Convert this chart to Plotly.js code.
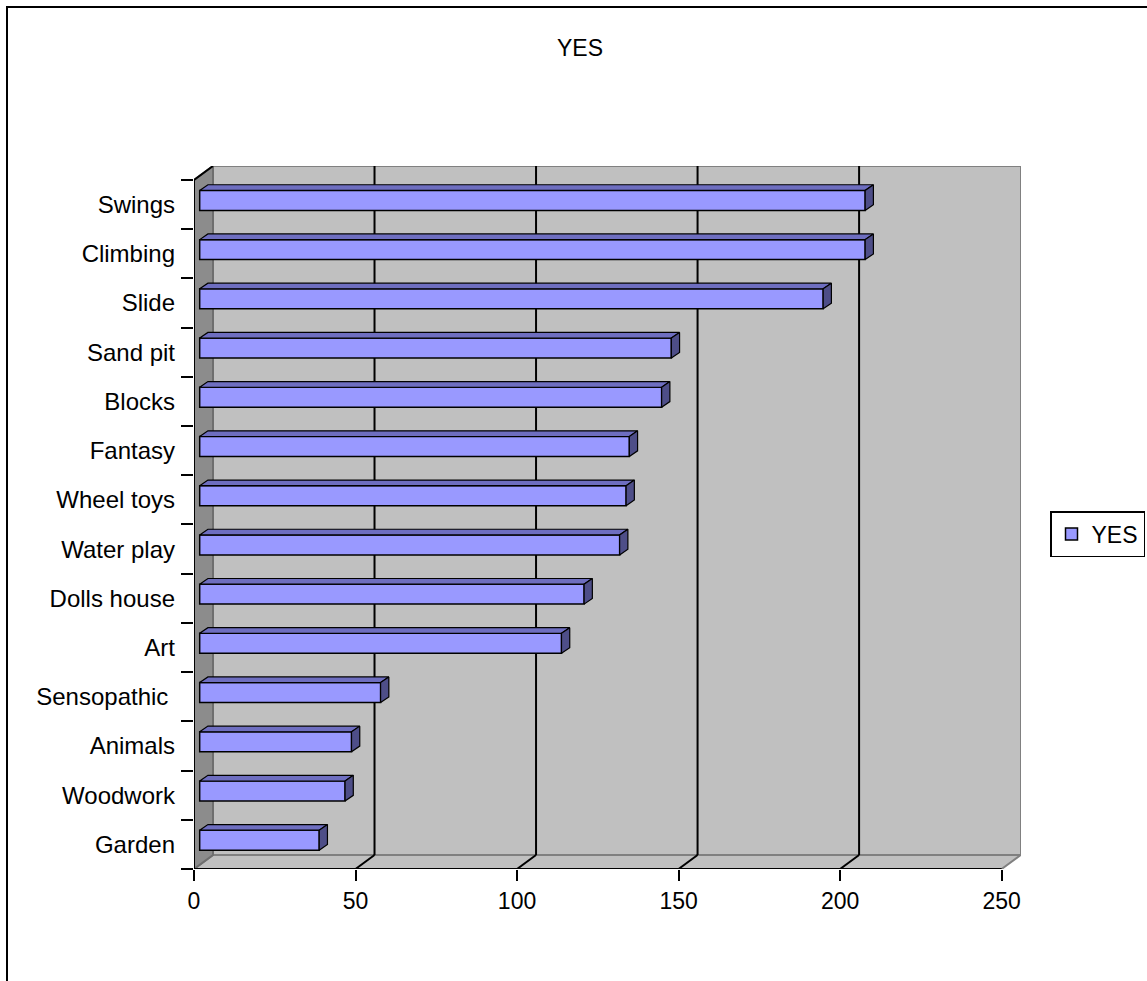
<!DOCTYPE html>
<html>
<head>
<meta charset="utf-8">
<script src="https://cdn.plot.ly/plotly-3.0.1.min.js"></script>
<style>html,body{margin:0;padding:0;background:#fff;}#chart{width:1147px;height:981px;}</style>
</head>
<body>
<div id="chart"></div>
<script>
// ---- data (top to bottom as shown) ----
const categories = ['Swings','Climbing','Slide','Sand pit','Blocks','Fantasy','Wheel toys','Water play','Dolls house','Art','Sensopathic\u00a0','Animals','Woodwork','Garden'];
const values = [206,206,193,146,143,133,132,130,119,112,56,47,45,37];
const xTickVals = [0,50,100,150,200,250];
const seriesName = 'YES';
const chartTitle = 'YES';

// ---- 3D look parameters (axis units) ----
const DX = 5.88, DY = 0.284;          // wall depth offset
const BASE = 1.76, BW = 0.406, BOFF = 0.085; // bar front face
const DDX = 2.55, DDY = 0.115;        // bar depth
const XMAX = 256, YMIN = -0.5, YMAX = 13.5 + DY;

const cats = categories.slice().reverse();
const vals = values.slice().reverse();

const topX = [], topY = [], sideX = [], sideY = [];
vals.forEach((v, i) => {
  const yT = i + BOFF + BW / 2, yB = i + BOFF - BW / 2;
  topX.push(BASE, BASE + v, BASE + v + DDX, BASE + DDX, BASE, null);
  topY.push(yT, yT, yT + DDY, yT + DDY, yT, null);
  sideX.push(BASE + v, BASE + v + DDX, BASE + v + DDX, BASE + v, BASE + v, null);
  sideY.push(yB, yB + DDY, yT + DDY, yT, yB, null);
});

const traces = [
  {type:'bar', orientation:'h', name:seriesName, y:cats, x:vals, base:BASE,
   width:BW, offset:BOFF - BW/2, xaxis:'x', yaxis:'y',
   marker:{color:'#9999FF', line:{color:'#000', width:1.5}}, hoverinfo:'skip'},
  {type:'scatter', mode:'lines', x:topX, y:topY, xaxis:'x', yaxis:'y2', fill:'toself',
   fillcolor:'#6E6EC0', line:{color:'#000', width:1.2}, showlegend:false, hoverinfo:'skip'},
  {type:'scatter', mode:'lines', x:sideX, y:sideY, xaxis:'x', yaxis:'y2', fill:'toself',
   fillcolor:'#4E4E88', line:{color:'#000', width:1.2}, showlegend:false, hoverinfo:'skip'}
];

const shapes = [];
// back wall
shapes.push({type:'path', xref:'x', yref:'y2', layer:'below',
  path:`M${DX},${YMIN+DY} L${XMAX},${YMIN+DY} L${XMAX},${13.5+DY} L${DX},${13.5+DY} Z`,
  fillcolor:'#C0C0C0', line:{color:'#808080', width:2}});
// floor
shapes.push({type:'path', xref:'x', yref:'y2', layer:'below',
  path:`M0,${YMIN} L250,${YMIN} L${250+DX},${YMIN+DY} L${DX},${YMIN+DY} Z`,
  fillcolor:'#C0C0C0', line:{color:'#808080', width:2}});
// left wall
shapes.push({type:'path', xref:'x', yref:'y2', layer:'below',
  path:`M0,${YMIN} L${DX},${YMIN+DY} L${DX},${13.5+DY} L0,13.5 Z`,
  fillcolor:'#8C8C8C', line:{color:'#6E6E6E', width:2}});
// gridlines on back wall + floor
xTickVals.forEach(v => {
  if (v > 0 && v < 250) {
    shapes.push({type:'line', xref:'x', yref:'y2', layer:'below',
      x0:v+DX, x1:v+DX, y0:YMIN+DY, y1:13.5+DY, line:{color:'#000', width:2}});
    shapes.push({type:'line', xref:'x', yref:'y2', layer:'below',
      x0:v, x1:v+DX, y0:YMIN, y1:YMIN+DY, line:{color:'#000', width:2}});
  }
});
// front axis lines
shapes.push({type:'line', xref:'x', yref:'y2', layer:'below', x0:0, x1:250, y0:YMIN, y1:YMIN, line:{color:'#000', width:2}});
shapes.push({type:'line', xref:'x', yref:'y2', layer:'below', x0:0, x1:0, y0:YMIN, y1:13.5, line:{color:'#000', width:2}});
shapes.push({type:'line', xref:'x', yref:'y2', layer:'below', x0:0, x1:DX, y0:13.5, y1:13.5+DY, line:{color:'#000', width:2}});
// outer chart border
const L = 194, R = 1021, T = 166, B = 869;
const px = p => (p - L) / (R - L), py = p => (B - p) / (B - T);
shapes.push({type:'rect', xref:'paper', yref:'paper', x0:px(7), x1:px(1160), y0:py(995), y1:py(7),
  line:{color:'#000', width:2}, fillcolor:'rgba(0,0,0,0)'});

const fam = '"Liberation Sans", Arial, sans-serif';
const font = {family:fam, size:23, color:'#000'};

const layout = {
  width:1147, height:981,
  margin:{l:L, r:1147-R, t:T, b:981-B, pad:0},
  paper_bgcolor:'#fff', plot_bgcolor:'rgba(0,0,0,0)',
  font:font,
  title:{text:chartTitle, font:{family:fam, size:23, color:'#000'},
         xref:'container', yref:'container', x:580/1147, xanchor:'center', y:1-48/981, yanchor:'middle'},
  showlegend:true,
  legend:{xref:'container', yref:'container', x:1145/1147, xanchor:'right', y:1-534/981, yanchor:'middle',
          bgcolor:'#fff', bordercolor:'#000', borderwidth:1.5, font:font, itemwidth:30,
          tracegroupgap:0},
  xaxis:{range:[0, XMAX], tickvals:xTickVals, ticks:'outside', ticklen:11, tickwidth:2, tickcolor:'#000',
         showgrid:false, zeroline:false, showline:false, tickfont:font, fixedrange:true, automargin:false},
  yaxis:{type:'category', categoryorder:'array', categoryarray:cats, range:[YMIN, YMAX],
         tickson:'boundaries', ticks:'outside', ticklen:12, tickwidth:2, tickcolor:'#000',
         ticklabelstandoff:18, automargin:false,
         showgrid:false, zeroline:false, showline:false, tickfont:{family:fam, size:24, color:'#000'}, fixedrange:true},
  yaxis2:{overlaying:'y', range:[YMIN, YMAX], visible:false, fixedrange:true},
  shapes:shapes
};

Plotly.newPlot('chart', traces, layout, {staticPlot:true, displayModeBar:false});
</script>
</body>
</html>
